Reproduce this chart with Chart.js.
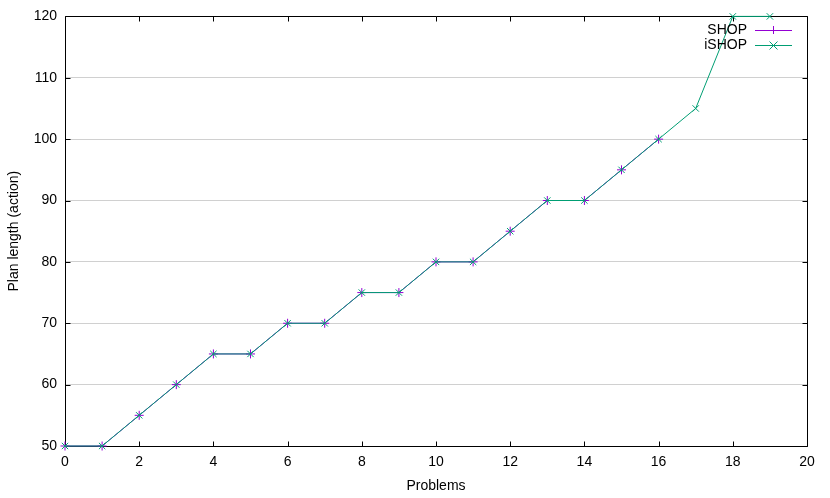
<!DOCTYPE html>
<html>
<head>
<meta charset="utf-8">
<script src="https://cdn.jsdelivr.net/npm/chart.js@4/dist/chart.umd.min.js"></script>
<style>
html,body{margin:0;padding:0;background:#fff;}
#wrap{width:830px;height:498px;}
</style>
</head>
<body>
<div id="wrap"><canvas id="c" width="830" height="498"></canvas></div>
<script>
const problems = [0,1,2,3,4,5,6,7,8,9,10,11,12,13,14,15,16,17,18,19];
const shopLengths = [50,50,55,60,65,65,70,70,75,75,80,80,85,90,90,95,100];
const ishopLengths = [50,50,55,60,65,65,70,70,75,75,80,80,85,90,90,95,100,105,120,120];
const xTicks = [0,2,4,6,8,10,12,14,16,18,20];
const yTicks = [50,60,70,80,90,100,110,120];
const seriesNames = ['SHOP','iSHOP'];
const seriesColors = ['#9400d3','#009e73'];

const FONT = '"Liberation Sans", Arial, sans-serif';
const FS = 14;

const framePlugin = {
  id: 'frame',
  beforeDatasetsDraw(chart) {
    const ctx = chart.ctx;
    const a = chart.chartArea;
    const xs = chart.scales.x, ys = chart.scales.y;
    ctx.save();
    ctx.strokeStyle = '#000';
    ctx.lineWidth = 1;
    ctx.beginPath();
    const L = Math.round(a.left)+0.5, R = Math.round(a.right)+0.5, T = Math.round(a.top)+0.5, B = Math.round(a.bottom)+0.5;
    ctx.rect(L, T, R-L, B-T);
    const tl = 5;
    xTicks.forEach(v => {
      const px = Math.round(xs.getPixelForValue(v))+0.5;
      ctx.moveTo(px, B); ctx.lineTo(px, B-tl);
      ctx.moveTo(px, T); ctx.lineTo(px, T+tl);
    });
    yTicks.forEach(v => {
      const py = Math.round(ys.getPixelForValue(v))+0.5;
      ctx.moveTo(L, py); ctx.lineTo(L+tl, py);
      ctx.moveTo(R, py); ctx.lineTo(R-tl, py);
    });
    ctx.stroke();
    ctx.restore();
  },
  afterDraw(chart) {
    const ctx = chart.ctx;
    ctx.save();
    ctx.font = FS + 'px ' + FONT;
    ctx.textAlign = 'right';
    ctx.textBaseline = 'middle';
    const rows = [30, 45];
    seriesNames.forEach((name, i) => {
      const y = rows[i];
      ctx.fillStyle = '#000';
      ctx.fillText(name, 747, y);
      ctx.strokeStyle = seriesColors[i];
      ctx.lineWidth = 1;
      ctx.beginPath();
      ctx.moveTo(755, y+0.5); ctx.lineTo(792, y+0.5);
      const cx = 773.5, r = 4;
      if (i === 0) {
        ctx.moveTo(cx, y-r); ctx.lineTo(cx, y+r);
      } else {
        ctx.moveTo(cx-r, y-r+0.5); ctx.lineTo(cx+r, y+r+0.5);
        ctx.moveTo(cx-r, y+r+0.5); ctx.lineTo(cx+r, y-r+0.5);
      }
      ctx.stroke();
    });
    ctx.restore();
  }
};

new Chart(document.getElementById('c'), {
  type: 'line',
  data: {
    datasets: [
      {
        label: seriesNames[0],
        order: 2,
        clip: false,
        data: shopLengths.map((v,i)=>({x: problems[i], y: v})),
        borderColor: seriesColors[0],
        backgroundColor: seriesColors[0],
        borderWidth: 1,
        pointStyle: 'cross',
        pointRadius: 4.5,
        pointBorderWidth: 1,
        pointBorderColor: seriesColors[0],
        tension: 0,
        fill: false
      },
      {
        label: seriesNames[1],
        order: 1,
        clip: false,
        data: ishopLengths.map((v,i)=>({x: problems[i], y: v})),
        borderColor: seriesColors[1],
        backgroundColor: seriesColors[1],
        borderWidth: 1,
        pointStyle: 'crossRot',
        pointRadius: 4.5,
        pointBorderWidth: 1,
        pointBorderColor: seriesColors[1],
        tension: 0,
        fill: false
      }
    ]
  },
  options: {
    responsive: false,
    animation: false,
    devicePixelRatio: 1,
    layout: { padding: { left: 0, top: 15, right: 23, bottom: 0 } },
    plugins: { legend: { display: false }, tooltip: { enabled: false } },
    scales: {
      x: {
        type: 'linear',
        min: 0, max: 20,
        afterFit(s) { s.height = 52; },
        afterBuildTicks(s) { s.ticks = xTicks.map(v => ({value: v})); },
        grid: { display: false, drawTicks: false },
        border: { display: false },
        ticks: { color: '#000', font: { family: FONT, size: FS }, padding: 8, maxRotation: 0, autoSkip: false },
        title: { display: true, text: 'Problems', color: '#000', font: { family: FONT, size: FS }, padding: { top: 4, bottom: 3 } }
      },
      y: {
        type: 'linear',
        min: 50, max: 120,
        afterFit(s) { s.width = 65; },
        afterBuildTicks(s) { s.ticks = yTicks.map(v => ({value: v})); },
        grid: {
          drawTicks: false,
          color: (c) => (c.tick && (c.tick.value === 50 || c.tick.value === 120)) ? 'rgba(0,0,0,0)' : '#d0d0d0',
          lineWidth: 1
        },
        border: { display: false },
        ticks: { color: '#000', font: { family: FONT, size: FS }, padding: 8, autoSkip: false },
        title: { display: true, text: 'Plan length (action)', color: '#000', font: { family: FONT, size: FS }, padding: { top: 6, bottom: 4 } }
      }
    }
  },
  plugins: [framePlugin]
});
</script>
</body>
</html>
